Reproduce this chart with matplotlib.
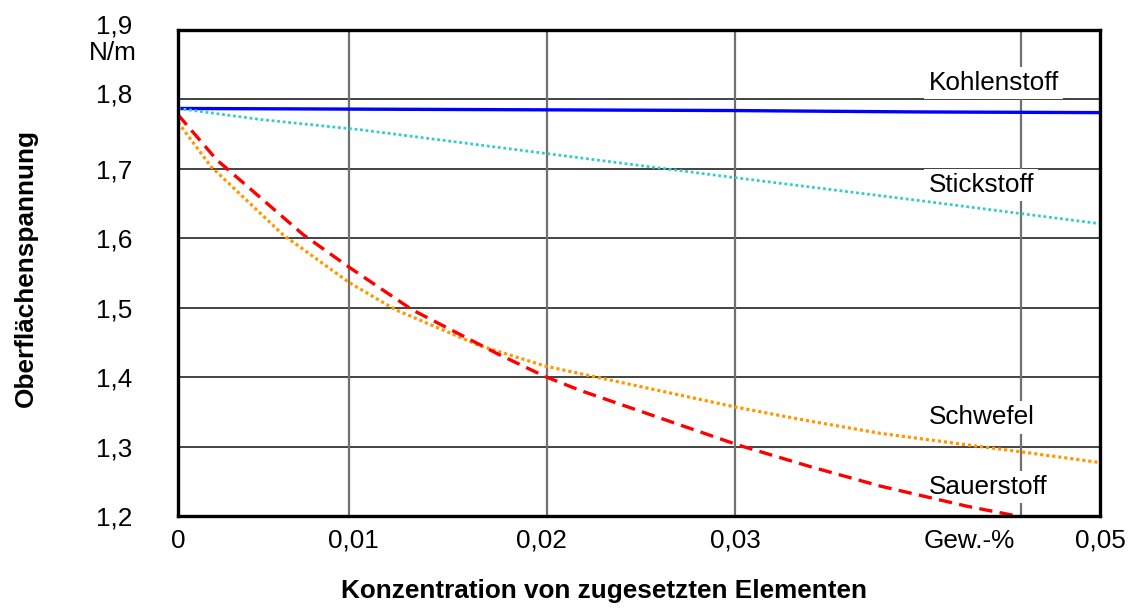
import matplotlib
matplotlib.use("Agg")
import matplotlib.pyplot as plt
from matplotlib.transforms import ScaledTranslation

plt.rcParams['font.family'] = ['Liberation Sans', 'DejaVu Sans']

# ---- data ----
x_kohlenstoff = [0, 0.01, 0.02, 0.03, 0.04, 0.05]
y_kohlenstoff = [1.787, 1.786, 1.785, 1.784, 1.782, 1.781]

x_stickstoff = [0, 0.0045, 0.01, 0.02, 0.03, 0.04, 0.05]
y_stickstoff = [1.787, 1.771, 1.756, 1.722, 1.688, 1.655, 1.621]

x_schwefel = [0, 0.0018, 0.0057, 0.0093, 0.0118, 0.0163, 0.0199, 0.0304,
              0.0342, 0.0381, 0.0435, 0.0457, 0.05]
y_schwefel = [1.767, 1.703, 1.605, 1.536, 1.497, 1.446, 1.416, 1.356,
              1.337, 1.319, 1.300, 1.2925, 1.277]

x_sauerstoff = [0, 0.0021, 0.0068, 0.0093, 0.0127, 0.0173, 0.0199, 0.0218,
                0.0304, 0.0343, 0.0381, 0.0428, 0.0453, 0.05]
y_sauerstoff = [1.778, 1.713, 1.605, 1.558, 1.497, 1.434, 1.401, 1.381,
                1.302, 1.271, 1.243, 1.214, 1.201, 1.177]

series_names = ['Kohlenstoff', 'Stickstoff', 'Schwefel', 'Sauerstoff']
label_y = [1.824, 1.677, 1.342, 1.242]

xtick_values = [0, 0.0095, 0.0197, 0.0302, 0.0429, 0.05]
xtick_labels = ['0', '0,01', '0,02', '0,03', 'Gew.-%', '0,05']
ytick_values = [1.2, 1.3, 1.4, 1.5, 1.6, 1.7, 1.8, 1.9]
ytick_labels = ['1,2', '1,3', '1,4', '1,5', '1,6', '1,7', '1,8', '1,9']

# ---- figure ----
fig = plt.figure(figsize=(11.34, 6.08), dpi=100)
ax = fig.add_axes([178/1134, 1-516/608, 922/1134, 486/608])
ax.set_xlim(0, 0.05)
ax.set_ylim(1.2, 1.9)

FS = 18.8

# gridlines (styling)
for gy in [1.3, 1.4, 1.5, 1.6, 1.7, 1.8]:
    ax.axhline(gy, color='#222222', lw=1.2, zorder=1)
for gx in [0.0093, 0.02, 0.0302, 0.0457]:
    ax.axvline(gx, color='#707070', lw=1.6, zorder=1)

ax.plot(x_kohlenstoff, y_kohlenstoff, color='#0000ff', lw=2.4, zorder=4,
        solid_capstyle='butt')
ax.plot(x_stickstoff, y_stickstoff, color='#33cccc', lw=2.0, zorder=4,
        linestyle=(0, (1, 1)))
ax.plot(x_schwefel, y_schwefel, color='#ff9900', lw=2.3, zorder=4,
        linestyle=(0, (1, 0.9)))
ax.plot(x_sauerstoff, y_sauerstoff, color='#ff0000', lw=2.4, zorder=4,
        linestyle=(0, (4, 2.2)))

for name, ly in zip(series_names, label_y):
    ax.text(0.0407, ly, name, fontsize=FS, ha='left', va='center', zorder=3,
            bbox=dict(facecolor='white', edgecolor='none', pad=3))

for s in ax.spines.values():
    s.set_linewidth(2.4)
    s.set_color('black')
    s.set_zorder(5)

ax.set_xticks(xtick_values)
ax.set_xticklabels(xtick_labels, fontsize=FS)
ax.set_yticks(ytick_values)
ax.set_yticklabels(ytick_labels, fontsize=FS)
ax.tick_params(axis='both', length=0)
ax.tick_params(axis='y', pad=33)
ax.tick_params(axis='x', pad=9)

shift = ScaledTranslation(0, 6/100, fig.dpi_scale_trans)
for lab in ax.get_yticklabels():
    if lab.get_text() in ('1,8', '1,9'):
        lab.set_transform(lab.get_transform() + shift)

ax.annotate('N/m', xy=(0, 1.9), xycoords=('axes fraction', 'data'),
            xytext=(-29.5, -16.6), textcoords='offset points',
            ha='right', va='center', fontsize=FS)

fig.text(604/1134, 1-591/608, 'Konzentration von zugesetzten Elementen',
         fontsize=FS, fontweight='bold', ha='center', va='center')
fig.text(26/1134, 1-268/608, 'Oberflächenspannung', rotation=90,
         fontsize=FS, fontweight='bold', ha='center', va='center')

fig.savefig('out.png', dpi=100)
